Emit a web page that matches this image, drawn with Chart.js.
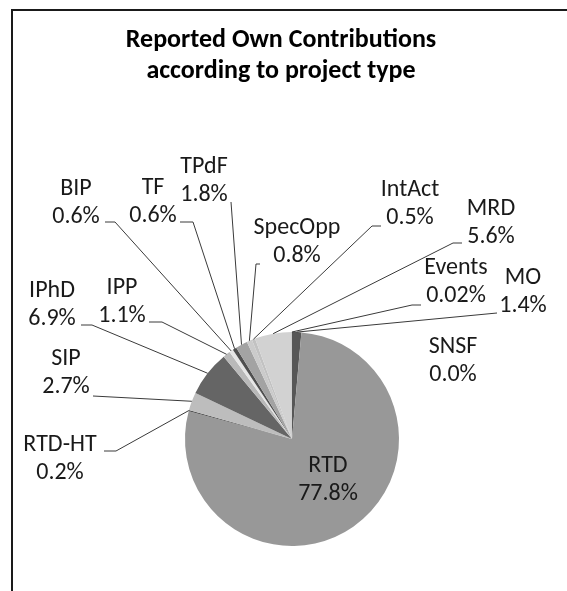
<!DOCTYPE html>
<html>
<head>
<meta charset="utf-8">
<script src="https://cdn.jsdelivr.net/npm/chart.js@4"></script>
<style>
  html, body { margin: 0; padding: 0; background: #fff; }
  #wrap { position: relative; width: 567px; height: 591px; overflow: hidden; }
  #frame { position: absolute; left: 11px; top: 9px; width: 600px; height: 620px;
           border-left: 2px solid #1a1a1a; border-top: 2px solid #1a1a1a; }
  canvas { position: absolute; left: 0; top: 0; }
</style>
</head>
<body>
<div id="wrap">
  <div id="frame"></div>
  <canvas id="myChart" width="567" height="591"></canvas>
</div>
<script>
const ctx = document.getElementById('myChart');

// data, clockwise from 12 o'clock
const labels = ['MO', 'SNSF', 'RTD', 'RTD-HT', 'SIP', 'IPhD', 'IPP', 'BIP', 'TF', 'TPdF', 'SpecOpp', 'IntAct', 'MRD', 'Events'];
const shares = [1.4, 0.0, 77.8, 0.2, 2.7, 6.9, 1.1, 0.6, 0.6, 1.8, 0.8, 0.5, 5.6, 0.02];
const colors = ['#575757', '#9a9a9a', '#989898', '#555555', '#bdbdbd', '#656565', '#b9b9b9', '#e6e6e6', '#4f4f4f', '#a3a3a3', '#cbcbcb', '#c2c2c2', '#d2d2d2', '#777777'];

const titleLines = ['Reported Own Contributions', 'according to project type'];

// where each label sits: text centre, then leader stub (text side, elbow)
const labelPos = {
    'MO':      { x: 523, y: 278, s: [497, 313], e: [497, 313] },
    'SNSF':    { x: 453, y: 347 },
    'RTD':     { x: 328, y: 466 },
    'RTD-HT':  { x: 60,  y: 445, s: [104, 451], e: [116, 451] },
    'SIP':     { x: 66,  y: 359, s: [93, 396],  e: [93, 396] },
    'IPhD':    { x: 52,  y: 291, s: [81, 325],  e: [92, 325] },
    'IPP':     { x: 122, y: 288, s: [149, 322], e: [162, 322] },
    'BIP':     { x: 76,  y: 189, s: [105, 222], e: [115, 222] },
    'TF':      { x: 153, y: 188, s: [180, 222], e: [193, 222] },
    'TPdF':    { x: 204, y: 167, s: [231, 202], e: [231, 202] },
    'SpecOpp': { x: 297, y: 228, s: [260, 264], e: [256, 264] },
    'IntAct':  { x: 410, y: 190, s: [381, 226], e: [372, 226] },
    'MRD':     { x: 491, y: 209, s: [462, 243], e: [453, 243] },
    'Events':  { x: 456, y: 268, s: [421, 305], e: [412, 305] }
};

const fontFamily = 'Calibri, Carlito, Lato, sans-serif';

function fmt(v) {
    return (v === 0 || v >= 0.1 ? v.toFixed(1) : v.toFixed(2)) + '%';
}

const pieLabels = {
    id: 'pieLabels',
    afterDraw(chart) {
        const c = chart.ctx;
        const meta = chart.getDatasetMeta(0);
        c.save();
        // title
        c.fillStyle = '#000';
        c.font = 'bold 26px ' + fontFamily;
        c.textAlign = 'center';
        c.textBaseline = 'alphabetic';
        c.fillText(titleLines[0], 281, 47);
        c.fillText(titleLines[1], 281, 78);

        c.font = '24px ' + fontFamily;
        c.textBaseline = 'middle';
        meta.data.forEach((arc, i) => {
            const p = labelPos[labels[i]];
            if (!p) return;
            c.fillStyle = '#1a1a1a';
            c.fillText(labels[i], p.x, p.y);
            c.fillText(fmt(shares[i]), p.x, p.y + 28);
            if (p.s) {
                const mid = (arc.startAngle + arc.endAngle) / 2;
                const ax = arc.x + Math.cos(mid) * arc.outerRadius;
                const ay = arc.y + Math.sin(mid) * arc.outerRadius;
                c.strokeStyle = '#3a3a3a';
                c.lineWidth = 1;
                c.beginPath();
                c.moveTo(p.s[0], p.s[1]);
                c.lineTo(p.e[0], p.e[1]);
                c.lineTo(ax, ay);
                c.stroke();
            }
        });
        c.restore();
    }
};

new Chart(ctx, {
    type: 'pie',
    data: {
        labels: labels,
        datasets: [{
            data: shares,
            backgroundColor: colors,
            borderWidth: 0
        }]
    },
    options: {
        responsive: false,
        animation: false,
        layout: {
            padding: { left: 185, right: 168, top: 332, bottom: 45 }
        },
        plugins: {
            legend: { display: false },
            tooltip: { enabled: false },
            title: { display: false }
        }
    },
    plugins: [pieLabels]
});
</script>
</body>
</html>
